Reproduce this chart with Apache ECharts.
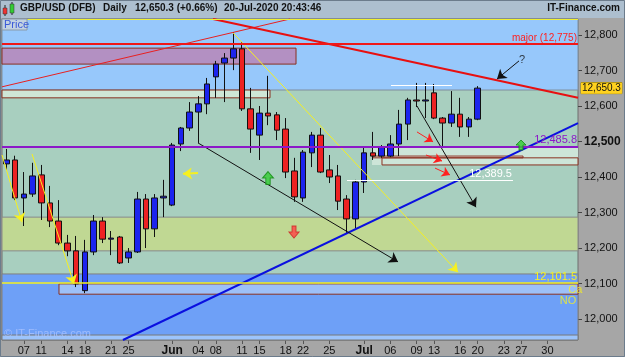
<!DOCTYPE html>
<html>
<head>
<meta charset="utf-8">
<script src="https://cdn.jsdelivr.net/npm/echarts@6/dist/echarts.min.js"></script>
<style>
html,body{margin:0;padding:0;background:#a6a6a6;}
#main{width:625px;height:357px;}
</style>
</head>
<body>
<div id="main"></div>
<script>
// trading days (MM-DD), May 5 .. Aug 4 2020
var dates = ['05-05','05-06','05-07','05-08','05-11','05-12','05-13','05-14','05-15','05-18','05-19','05-20','05-21','05-22','05-25','05-26','05-27','05-28','05-29',
  '06-01','06-02','06-03','06-04','06-05','06-08','06-09','06-10','06-11','06-12','06-15','06-16','06-17','06-18','06-19','06-22','06-23','06-24','06-25','06-26','06-29','06-30',
  '07-01','07-02','07-03','07-06','07-07','07-08','07-09','07-10','07-13','07-14','07-15','07-16','07-17','07-20','07-21','07-22','07-23','07-24','07-27','07-28','07-29','07-30','07-31',
  '08-03','08-04'];
// [open, close, low, high]
var ohlc = [
  [12437,12448,12420,12479],[12448,12341,12335,12460],[12341,12352,12262,12414],[12352,12403,12344,12440],
  [12406,12327,12279,12434],[12327,12276,12259,12375],[12276,12214,12208,12335],[12214,12192,12177,12237],
  [12192,12099,12090,12234],[12080,12189,12073,12223],[12189,12276,12180,12293],[12276,12225,12214,12287],
  [12225,12228,12180,12248],[12231,12158,12155,12234],[12172,12189,12158,12200],[12189,12338,12186,12358],
  [12338,12254,12200,12352],[12254,12341,12231,12352],[12341,12346,12287,12392],
  [12321,12490,12318,12496],[12493,12538,12473,12541],[12538,12583,12530,12611],[12583,12606,12496,12628],
  [12606,12662,12577,12679],[12682,12718,12623,12727],[12721,12735,12611,12749],[12735,12761,12701,12808],
  [12761,12592,12586,12780],[12592,12535,12468,12651],[12518,12580,12448,12600],[12580,12572,12546,12685],
  [12575,12532,12504,12583],[12535,12414,12397,12566],[12417,12344,12330,12454],[12341,12470,12330,12476],
  [12468,12518,12428,12527],[12518,12414,12411,12538],[12420,12400,12383,12462],[12403,12332,12307,12434],
  [12338,12282,12242,12349],[12282,12386,12256,12392],
  [12386,12468,12355,12485],[12468,12459,12448,12527],[12459,12485,12454,12490],[12459,12493,12456,12518],
  [12493,12549,12459,12589],[12549,12617,12504,12623],[12617,12614,12597,12665],[12614,12617,12566,12665],
  [12637,12566,12563,12662],[12566,12552,12485,12569],[12552,12577,12541,12642],[12577,12541,12513,12623],
  [12541,12563,12513,12569],[12563,12650.3,12560,12656]
];
var tickDays = ['05-07','05-11','05-14','05-18','05-21','05-25','06-01','06-04','06-08','06-11','06-15','06-18','06-22','06-25',
  '07-01','07-06','07-09','07-13','07-16','07-20','07-23','07-27','07-30'];
var monthNames = ['', 'Jan','Feb','Mar','Apr','May','Jun','Jul','Aug'];
var yTicks = [12000,12100,12200,12300,12400,12500,12600,12700,12800];
var lastPrice = 12650.3;
var majorLevel = 12775;
var pivotLevel = 12485.8;
var supportLevel = 12389.5;
var lowLevel = 12101.5;

// drawn trend lines / arrows: [x1, price1, x2, price2]
var redFall = [23.68,12845,65.5,12623];
var redRise = [-0.5,12654,32.5,12845];
var blueRise = [13.36,11941,65.5,12552];
var yellowFall = [25.97,12806,51.75,12132];
var yellowA = [-0.5,12462,1.79,12273];
var yellowB = [2.94,12465,7.75,12099];
var yellowLeft = [21.96,12411,20.24,12409];
var blackA = [21.96,12496,44.88,12161];
var blackB = [47.05,12600,53.81,12315];
var blackC = [58.74,12727,56.22,12676];
var redArrows = [[47.05,12527,48.89,12499],[48.08,12462,49.92,12445],[49.12,12425,50.83,12406]];
var whiteTop = [44.07,12659,51.06,12659];
var whiteSup = [39.03,58.05];

var chart = echarts.init(document.getElementById('main'));

function seg(s, color, width, arrow, size) {
  return [
    {coord:[s[0],s[1]], symbol:'none', lineStyle:{color:color, width:width, type:'solid'}},
    {coord:[s[2],s[3]], symbol: arrow ? 'arrow' : 'none', symbolSize: size || 8}
  ];
}
function rect(x1,y1,x2,y2,fill,border) {
  return [{coord:[x1,y1], itemStyle:{color:fill, borderColor:border||'transparent', borderWidth:border?1:0}}, {coord:[x2,y2]}];
}
function band(a,b,fill,border) {
  return [{yAxis:a, itemStyle:{color:fill, borderColor:border||'transparent', borderWidth:border?1:0}}, {yAxis:b}];
}
function fmt(v) { return v.toLocaleString('en-US'); }

var lineSegs = [
  seg(redRise,'#e82020',1,false),
  seg(redFall,'#e81010',2,false),
  seg(blueRise,'#0a10e0',2,false),
  seg(yellowFall,'#f6f020',1,true,9),
  seg(yellowA,'#f6f020',1,true,9),
  seg(yellowB,'#f6f020',1,true,9),
  seg(yellowLeft,'#f6f020',2,true,9),
  seg(blackA,'#111111',1,true,9),
  seg(blackB,'#111111',1,true,9),
  seg(blackC,'#111111',1,true,9),
  seg(whiteTop,'#ffffff',1,false)
];
redArrows.forEach(function(r){ lineSegs.push(seg(r,'#ff2020',1,true,8)); });

var upPath = 'path://M5,0L10,6L7,6L7,12L3,12L3,6L0,6Z';

var option = {
  animation: false,
  backgroundColor: '#a6a6a6',
  grid: {left:2, right:47, top:19, bottom:17, show:true, backgroundColor:'#a8cfbf', borderColor:'#6e6e6e', borderWidth:1},
  xAxis: [{
    type:'category', data: dates, boundaryGap:true, position:'bottom',
    axisLine:{show:false, onZero:false},
    axisTick:{show:true, alignWithLabel:true, length:4, lineStyle:{color:'#555'},
      interval:function(i,v){ return tickDays.indexOf(v) >= 0; }},
    axisLabel:{margin:5, color:'#111', fontSize:11, fontFamily:'Liberation Sans, Arial',
      interval:function(i,v){ return tickDays.indexOf(v) >= 0; },
      formatter:function(v){ var d=v.split('-'); return d[1]==='01' ? '{m|'+monthNames[+d[0]]+'}' : d[1]; },
      rich:{m:{fontWeight:'bold', fontSize:12, color:'#111', fontFamily:'Liberation Sans, Arial'}}},
    splitLine:{show:false}
  }, {
    type:'value', min:-0.5, max:65.5, show:false, position:'top', axisLine:{onZero:false}
  }],
  yAxis: {
    type:'value', position:'right', min:11941, max:12845,
    axisLine:{show:false, onZero:false}, splitLine:{show:false},
    axisTick:{show:true, customValues:yTicks, length:4, lineStyle:{color:'#444'}},
    axisLabel:{customValues:yTicks, margin:6, color:'#111', fontSize:11, fontFamily:'Liberation Sans, Arial',
      formatter:function(v){ return v===12500 ? '{b|'+fmt(v)+'}' : fmt(v); },
      rich:{b:{fontWeight:'bold', fontSize:12, color:'#111'}}}
  },
  series: [{
    name:'levels', type:'line', xAxisIndex:1, data:[[-0.5,12400]], symbol:'none', lineStyle:{opacity:0}, silent:true,
    markArea:{silent:true, data:[
      band(12645,12845,'#97c8fb','#7f8f9f'),
      band(12192,12287,'#c0d893','#8a8a8a'),
      band(11941,12127,'#6ea0f7','#808080'),
      band(11941,11955,'#9cc4fc','#7a7a7a'),
      rect(-0.5,12718,33.19,12763,'#b390c2','#8a3020'),
      rect(-0.5,12623,30.21,12645,'#cfe6d6','#8a3020'),
      rect(41.9,12434,65.5,12483,'#cde5d8'),
      rect(42.01,12454,59.2,12459,'#e6efe8','#8a3020'),
      rect(43.04,12434,65.5,12454,'transparent','#8a3020'),
      rect(6.03,12070,65.5,12099,'#9dc0f8','#8a3020')
    ]},
    markLine:{silent:true, symbol:['none','none'], label:{show:false}, data: lineSegs.concat([
      [{coord:[whiteSup[0],supportLevel], symbol:'none', lineStyle:{color:'#ffffff',width:1,type:'solid'},
        label:{show:true, position:'insideEndTop', formatter:'12,389.5', color:'#ffffff', fontSize:11, distance:1}},
       {coord:[whiteSup[1],supportLevel], symbol:'none'}],
      {yAxis:12844, symbol:'none', lineStyle:{color:'#f0f030',width:1,type:'solid'}},
      {yAxis:majorLevel, symbol:'none', lineStyle:{color:'#f01818',width:2,type:'solid'},
        label:{show:true, position:'insideEndTop', formatter:'major (12,775)', color:'#ff2020', fontSize:10, distance:1}},
      {yAxis:pivotLevel, symbol:'none', lineStyle:{color:'#8c18c8',width:2,type:'solid'},
        label:{show:true, position:'insideEndTop', formatter:'12,485.8', color:'#8c18c8', fontSize:11, distance:1}},
      {yAxis:lowLevel, symbol:'none', lineStyle:{color:'#f4f020',width:1.5,type:'solid'},
        label:{show:true, position:'insideEndTop', formatter:'12,101.5', color:'#f8f020', fontSize:11, distance:1}},
      {yAxis:lastPrice, symbol:'none', lineStyle:{color:'rgba(0,0,0,0)', width:0},
        label:{show:true, position:'end', distance:3, formatter:'12,650.3', backgroundColor:'#ffd21f', color:'#111',
          padding:[1,1,0,1], fontSize:10, fontFamily:'Liberation Sans, Arial', borderColor:'#9a8000', borderWidth:0.5}}
    ])}
  }, {
    name:'GBP/USD', type:'candlestick', xAxisIndex:0, data: ohlc, barWidth:6,
    itemStyle:{color:'#1c24ee', color0:'#ee2222', borderColor:'#111', borderColor0:'#111', borderWidth:1}
  }, {
    name:'marks', type:'scatter', xAxisIndex:1, silent:true, z:6,
    data:[
      {value:[29.98,12397], symbol:upPath, symbolSize:[11,13], itemStyle:{color:'#33cc33', borderColor:'#118811', borderWidth:1}},
      {value:[32.96,12245], symbol:upPath, symbolRotate:180, symbolSize:[10,12], itemStyle:{color:'#ff4444', borderColor:'#cc2222', borderWidth:1}},
      {value:[58.97,12490], symbol:upPath, symbolSize:[10,10], itemStyle:{color:'#33cc33', borderColor:'#118811', borderWidth:1}}
    ]
  }, {
    name:'notes', type:'scatter', xAxisIndex:1, silent:true, symbolSize:0, z:6,
    label:{show:true, position:[0,0], align:'center', verticalAlign:'middle', formatter:'{b}', fontSize:11},
    data:[
      {name:'?', value:[59.08,12730], label:{color:'#111'}},
      {name:'Ca', value:[65.2,12082], label:{color:'#f8f020'}},
      {name:'NO', value:[64.35,12051], label:{color:'#f8f020'}}
    ]
  }],
  graphic: [
    {type:'rect', shape:{x:0,y:0,width:625,height:18}, style:{fill:'#adbfcf'}, z:10},
    {type:'rect', shape:{x:0.5,y:0.5,width:624,height:356}, style:{fill:'none', stroke:'#6c7c8c', lineWidth:1}, z:10},
    {type:'line', shape:{x1:5,y1:5,x2:5,y2:16}, style:{stroke:'#222', lineWidth:1}, z:10},
    {type:'rect', shape:{x:3,y:8,width:4,height:6}, style:{fill:'#ee3333', stroke:'#333', lineWidth:0.5}, z:11},
    {type:'line', shape:{x1:12,y1:2,x2:12,y2:15}, style:{stroke:'#222', lineWidth:1}, z:10},
    {type:'rect', shape:{x:10,y:4,width:4,height:9}, style:{fill:'#33cc33', stroke:'#333', lineWidth:0.5}, z:11},
    {type:'text', left:20, top:3, style:{text:'GBP/USD (DFB)', fill:'#111', font:'bold 10px Liberation Sans, Arial'}, z:11},
    {type:'text', left:103, top:3, style:{text:'Daily', fill:'#111', font:'bold 10px Liberation Sans, Arial'}, z:11},
    {type:'text', left:135, top:3, style:{text:'12,650.3 (+0.66%)', fill:'#111', font:'bold 10px Liberation Sans, Arial'}, z:11},
    {type:'text', left:224, top:3, style:{text:'20-Jul-2020 20:43:46', fill:'#111', font:'bold 10px Liberation Sans, Arial'}, z:11},
    {type:'text', right:5, top:3, style:{text:'IT-Finance.com', fill:'#111', font:'bold 10px Liberation Sans, Arial'}, z:11},
    {type:'rect', shape:{x:2,y:19,width:25,height:11}, style:{fill:'#c2d2e2', stroke:'#8a9aaa', lineWidth:1}, z:11},
    {type:'text', left:4, top:19, style:{text:'Price', fill:'#3a5ad8', font:'11px Liberation Sans, Arial'}, z:12},
    {type:'text', left:4, top:328, style:{text:'© IT-Finance.com', fill:'rgba(170,195,255,0.8)', font:'11px Liberation Sans, Arial'}, z:11}
  ]
};
chart.setOption(option);
</script>
</body>
</html>
